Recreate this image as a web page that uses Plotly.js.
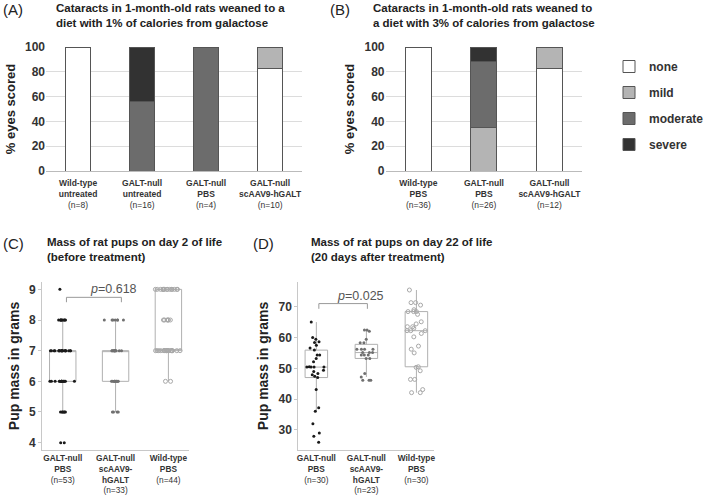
<!DOCTYPE html>
<html>
<head>
<meta charset="utf-8">
<script src="https://cdn.plot.ly/plotly-3.0.1.min.js"></script>
<style>body{margin:0;background:#fff}</style>
</head>
<body>
<div id="myPlot" style="width:709px;height:497px;"></div>
<script>
// Panel A: 1% galactose diet, % eyes per cataract score
const groupsA = [['Wild-type', 'untreated'], ['GALT-null', 'untreated'], ['GALT-null', 'PBS'], ['GALT-null', 'scAAV9-hGALT']];
const nA = [8, 16, 4, 10];
const noneA = [100, 0, 0, 83];
const mildA = [0, 0, 0, 17];
const moderateA = [0, 56, 100, 0];
const severeA = [0, 44, 0, 0];

// Panel B: 3% galactose diet
const groupsB = [['Wild-type', 'PBS'], ['GALT-null', 'PBS'], ['GALT-null', 'scAAV9-hGALT']];
const nB = [36, 26, 12];
const noneB = [100, 0, 83];
const mildB = [0, 35, 17];
const moderateB = [0, 53, 0];
const severeB = [0, 12, 0];

const levels = ['none', 'mild', 'moderate', 'severe'];
const levelColors = ['#ffffff', '#b4b4b4', '#6c6c6c', '#323232'];

// Panel C: pup mass (g) on day 2
const groupsC = [['GALT-null', 'PBS'], ['GALT-null', 'scAAV9-', 'hGALT'], ['Wild-type', 'PBS']];
const nC = [53, 33, 44];
const massC_null = [4, 4, 5, 5, 5, 5, 5, 5,
  6, 6, 6, 6, 6, 6, 6, 6, 6, 6, 6, 6, 6, 6, 6,
  7, 7, 7, 7, 7, 7, 7, 7, 7, 7, 7, 7, 7, 7, 7, 7, 7, 7, 7, 7,
  8, 8, 8, 8, 8, 8, 8, 8, 8, 9];
const massC_aav = [5, 5, 5, 5,
  6, 6, 6, 6, 6, 6, 6, 6, 6, 6,
  7, 7, 7, 7, 7, 7, 7, 7, 7, 7, 7, 7,
  8, 8, 8, 8, 8, 8, 8];
const massC_wt = [6, 6,
  7, 7, 7, 7, 7, 7, 7, 7, 7, 7, 7, 7, 7, 7, 7, 7, 7, 7, 7, 7, 7,
  8, 8, 8, 8, 8, 8,
  9, 9, 9, 9, 9, 9, 9, 9, 9, 9, 9, 9, 9, 9, 9];

// Panel D: pup mass (g) on day 22
const groupsD = [['GALT-null', 'PBS'], ['GALT-null', 'scAAV9-', 'hGALT'], ['Wild-type', 'PBS']];
const nD = [30, 23, 30];
const massD_null = [65, 60, 59.4, 58.6, 58.4, 57.5, 56.6, 55.9, 54.3, 54.3, 53.2, 52.1, 50.5, 50.4, 50.4,
  50.4, 50.4, 49.4, 49, 48.3, 47.9, 47.4, 47, 43.1, 37.2, 36.1, 32, 29, 28, 26];
const massD_aav = [62.4, 62.4, 62, 59.4, 58.3, 58.3, 56.2, 56.2, 56.2, 56.2, 55.1, 55.1, 55.1, 54.3, 54.3,
  54.3, 53.2, 53.2, 48.3, 47.2, 46.1, 46.1, 46.1];
const massD_wt = [75.4, 71.3, 71.3, 70.5, 69, 68.4, 68.4, 68.4, 67.5, 65.1, 64.4, 63.5, 63.5, 63, 62.2,
  62.2, 62.2, 61.3, 60.2, 57.2, 56.2, 55, 50.5, 50.3, 49.2, 46.4, 46.4, 43.1, 42.1, 42.1];

const pValues = ['0.618', '0.025'];

function label(lines, n) {
    return lines.map(l => '<b>' + l + '</b>').join('<br>') + '<br>(n=' + n + ')';
}
const labelsA = groupsA.map((g, i) => label(g, nA[i]));
const labelsB = groupsB.map((g, i) => label(g, nB[i]));
const labelsC = groupsC.map((g, i) => label(g, nC[i]));
const labelsD = groupsD.map((g, i) => label(g, nD[i]));

const valsA = [noneA, mildA, moderateA, severeA];
const valsB = [noneB, mildB, moderateB, severeB];

const data = [];
levels.forEach((lev, k) => {
    data.push({
        type: 'bar', x: labelsA, y: valsA[k], name: lev,
        legendgroup: lev, showlegend: true,
        marker: {color: levelColors[k], line: {color: '#555', width: 1}},
        xaxis: 'x', yaxis: 'y', hoverinfo: 'skip'
    });
});
levels.forEach((lev, k) => {
    data.push({
        type: 'bar', x: labelsB, y: valsB[k], name: lev,
        legendgroup: lev, showlegend: false,
        marker: {color: levelColors[k], line: {color: '#555', width: 1}},
        xaxis: 'x2', yaxis: 'y2', hoverinfo: 'skip'
    });
});

// box + jittered points
const ptStyle = [
    {color: '#1a1a1a', size: 3, symbol: 'circle'},
    {color: '#707070', size: 3, symbol: 'circle'},
    {color: '#a8a8a8', size: 4, symbol: 'circle-open'}
];
function box(y, name, ax, k, w) {
    return {
        type: 'box', y: y, name: name, showlegend: false,
        boxpoints: 'all', jitter: 1, pointpos: 0, width: w, whiskerwidth: 0,
        line: {color: '#b0b0b0', width: 1}, fillcolor: 'rgba(0,0,0,0)',
        marker: ptStyle[k],
        xaxis: 'x' + ax, yaxis: 'y' + ax, hoverinfo: 'skip'
    };
}
[massC_null, massC_aav, massC_wt].forEach((y, k) => data.push(box(y, labelsC[k], 3, k, 0.5)));
[massD_null, massD_aav, massD_wt].forEach((y, k) => data.push(box(y, labelsD[k], 4, k, 0.45)));

const W = 709, H = 497;
const px = v => v / W;
const py = v => 1 - v / H;
const font = 'Liberation Sans, Arial, sans-serif';

const barY = {
    range: [0, 100], dtick: 20, showgrid: true, gridcolor: '#dcdcdc', zeroline: false,
    tickfont: {size: 12, weight: 'bold', color: '#333'}, ticks: '', fixedrange: true
};
const barX = {
    showline: true, linecolor: '#bbb', ticks: '', ticklabelstandoff: 4,
    tickfont: {size: 8.5, color: '#333'}
};
const boxX = {
    showline: true, linecolor: '#c8c8c8', ticks: '',
    tickfont: {size: 8.3, color: '#333'}
};
const boxY = {
    showline: true, linecolor: '#c8c8c8', showgrid: false, zeroline: false,
    ticks: 'outside', ticklen: 3, tickcolor: '#c8c8c8',
    tickfont: {size: 12, weight: 'bold', color: '#333'}
};

function ann(text, x, y, size, bold) {
    return {text: text, xref: 'paper', yref: 'paper', x: px(x), y: py(y),
        xanchor: 'left', yanchor: 'top', align: 'left', showarrow: false,
        font: {size: size, color: '#222', weight: bold ? 'bold' : 'normal'}};
}

const layout = {
    width: W, height: H,
    margin: {l: 0, r: 0, t: 0, b: 0},
    font: {family: font, color: '#222'},
    paper_bgcolor: '#fff', plot_bgcolor: 'rgba(0,0,0,0)',
    barmode: 'stack', bargap: 0.6,
    xaxis: Object.assign({}, barX, {domain: [px(48), px(315)], anchor: 'y'}),
    yaxis: Object.assign({}, barY, {domain: [py(171), py(47)], anchor: 'x',
        title: {text: '% eyes scored', font: {size: 13, weight: 'bold'}, standoff: 6}}),
    xaxis2: Object.assign({}, barX, {domain: [px(402), px(607)], anchor: 'y2'}),
    yaxis2: Object.assign({}, barY, {domain: [py(171), py(47)], anchor: 'x2',
        title: {text: '% eyes scored', font: {size: 13, weight: 'bold'}, standoff: 6}}),
    xaxis3: Object.assign({}, boxX, {domain: [px(44), px(197)], anchor: 'y3'}),
    yaxis3: Object.assign({}, boxY, {domain: [py(450), py(282)], anchor: 'x3', range: [3.76, 9.24], dtick: 1,
        title: {text: 'Pup mass in grams', font: {size: 14, weight: 'bold'}, standoff: 6}}),
    xaxis4: Object.assign({}, boxX, {domain: [px(311), px(453)], anchor: 'y4'}),
    yaxis4: Object.assign({}, boxY, {domain: [py(450), py(282)], anchor: 'x4', range: [23.5, 78], dtick: 10,
        title: {text: 'Pup mass in grams', font: {size: 14, weight: 'bold'}, standoff: 6}}),
    legend: {
        x: px(635), y: py(52), xanchor: 'left', yanchor: 'top',
        traceorder: 'grouped', tracegroupgap: 7,
        font: {size: 12, weight: 'bold', color: '#333'},
        bgcolor: 'rgba(0,0,0,0)'
    },
    annotations: [
        ann('(A)', 1, -1, 15, false),
        ann('Cataracts in 1-month-old rats weaned to a<br>diet with 1% of calories from galactose', 56, 0, 11.5, true),
        ann('(B)', 342, -1, 15, false),
        ann('Cataracts in 1-month-old rats weaned to<br>a diet with 3% of calories from galactose', 387, 0, 11.5, true),
        ann('(C)', 1, 233, 15, false),
        ann('Mass of rat pups on day 2 of life<br>(before treatment)', 47, 234, 11.5, true),
        ann('(D)', 262, 233, 15, false),
        ann('Mass of rat pups on day 22 of life<br>(20 days after treatment)', 322, 234, 11.5, true),
        {text: '<i>p</i>=' + pValues[0], xref: 'x3', yref: 'y3', x: 0.97, y: 9.0,
            showarrow: false, font: {size: 12.5, color: '#555'}},
        {text: '<i>p</i>=' + pValues[1], xref: 'x4', yref: 'y4', x: 0.89, y: 73.6,
            showarrow: false, font: {size: 12.5, color: '#555'}}
    ],
    shapes: [
        {type: 'path', xref: 'x3', yref: 'y3', path: 'M0.07,8.58 L0.07,8.74 L1.11,8.74 L1.11,8.58',
            line: {color: '#999', width: 1}},
        {type: 'path', xref: 'x4', yref: 'y4', path: 'M0.05,69.3 L0.05,71 L1.02,71 L1.02,69.3',
            line: {color: '#999', width: 1}}
    ]
};

Plotly.newPlot('myPlot', data, layout, {displayModeBar: false, staticPlot: true});
</script>
</body>
</html>
